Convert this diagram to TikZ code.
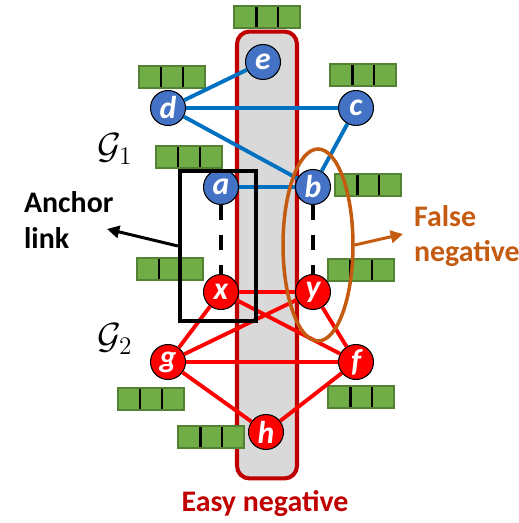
\documentclass[tikz,border=0pt]{standalone}
\usepackage{fontspec}
\setmainfont{Carlito}
\usetikzlibrary{arrows.meta,positioning,shapes.geometric}
\definecolor{nodeBlue}{HTML}{4472C4}
\definecolor{edgeBlue}{HTML}{0070C0}
\definecolor{nodeRed}{HTML}{FF0000}
\definecolor{darkRed}{HTML}{C00000}
\definecolor{boxGray}{HTML}{D9D9D9}
\definecolor{featGreen}{HTML}{70AD47}
\definecolor{featEdge}{HTML}{548235}
\definecolor{fnOrange}{HTML}{C55A11}

\begin{document}
\begin{tikzpicture}[
    x=0.02cm, y=-0.02cm,
    vtx/.style={circle, draw=black, line width=0.6pt, minimum size=0.7cm, inner sep=0pt, text=white, font=\fontsize{18}{18}\selectfont\bfseries\itshape},
    g1/.style={vtx, fill=nodeBlue},
    g2/.style={vtx, fill=nodeRed},
    feat/.style={draw=featEdge, fill=featGreen, line width=0.6pt, minimum width=1.32cm, minimum height=0.44cm, inner sep=0pt,
      path picture={\foreach \t in {-0.22,0.22} \draw[black, line width=1.7pt] ([xshift=\t cm]path picture bounding box.north) -- ([xshift=\t cm]path picture bounding box.south);}},
    blueedge/.style={draw=edgeBlue, line width=2.2pt},
    rededge/.style={draw=nodeRed, line width=2.2pt},
    anchoredge/.style={draw=black, line width=2.2pt, dash pattern=on 8.5pt off 8.5pt},
    lbl/.style={font=\fontsize{17}{20}\selectfont\bfseries, align=left, inner sep=1pt}
  ]
    \useasboundingbox (0,0) rectangle (519,523);

    % Easy negative column
    \node[draw=darkRed, fill=boxGray, line width=2.3pt, rounded corners=0.25cm, minimum width=1.2cm, minimum height=8.94cm] (easy) at (267,255) {};

    % Feature vectors
    \node[feat] (fe) at (267,17) {};
    \node[feat] (fd) at (172,77) {};
    \node[feat] (fc) at (363,75) {};
    \node[feat] (fa) at (189,157) {};
    \node[feat] (fb) at (368,185) {};
    \node[feat] (fx) at (170,269) {};
    \node[feat] (fy) at (361,270) {};
    \node[feat] (fg) at (151,399) {};
    \node[feat] (ff) at (361,397) {};
    \node[feat] (fh) at (211,437) {};

    % Nodes G1
    \node[g1] (e) at (263,62) {e};
    \node[g1] (d) at (168,108) {d};
    \node[g1] (c) at (356,108) {c};
    \node[g1] (a) at (221,187) {a};
    \node[g1] (b) at (313,187) {b};

    % Nodes G2
    \node[g2] (x) at (221,292) {x};
    \node[g2] (y) at (313,292) {y};
    \node[g2] (g) at (168,362) {g};
    \node[g2] (f) at (356,362) {f};
    \node[g2] (h) at (266,432) {h};

    % Edges G1
    \draw[blueedge] (d) -- (e);
    \draw[blueedge] (d) -- (c);
    \draw[blueedge] (d) -- (b);
    \draw[blueedge] (c) -- (b);
    \draw[blueedge] (a) -- (b);

    % Edges G2
    \draw[rededge] (x) -- (y);
    \draw[rededge] (x) -- (g);
    \draw[rededge] (x) -- (f);
    \draw[rededge] (y) -- (g);
    \draw[rededge] (y) -- (f);
    \draw[rededge] (g) -- (f);
    \draw[rededge] (g) -- (h);
    \draw[rededge] (f) -- (h);

    % Anchor links
    \draw[anchoredge] (a) -- (x);
    \draw[anchoredge] (b) -- (y);

    % Graph labels
    \node[font=\fontsize{21}{21}\selectfont] (lg1) at (115,149) {$\mathcal{G}_1$};
    \node[font=\fontsize{21}{21}\selectfont] (lg2) at (115,339) {$\mathcal{G}_2$};

    % Anchor box and false negative
    \node[draw=black, line width=2.5pt, minimum width=1.52cm, minimum height=3cm] (anchorbox) at (218,246) {};
    \node[draw=fnOrange, ellipse, line width=2pt, minimum width=1.4cm, minimum height=3.84cm, inner sep=0pt] (fneg) at (318,245) {};

    % Text labels
    \node[lbl, anchor=west] (anchorlbl) at (22,220) {Anchor\\link};
    \node[lbl, anchor=west, text=fnOrange] (fneglbl) at (412,236) {False\\negative};
    \node[lbl, text=darkRed] (easylbl) at (265,504) {Easy negative};

    \coordinate (antip) at (107,229);
    \coordinate (fntip) at (403,234);
    \draw[black, line width=1.7pt, -{Triangle[length=7pt, width=7pt]}] (anchorbox.west) -- (antip);
    \draw[fnOrange, line width=1.7pt, -{Triangle[length=7pt, width=7pt]}] (fneg.east) -- (fntip);
\end{tikzpicture}
\end{document}
